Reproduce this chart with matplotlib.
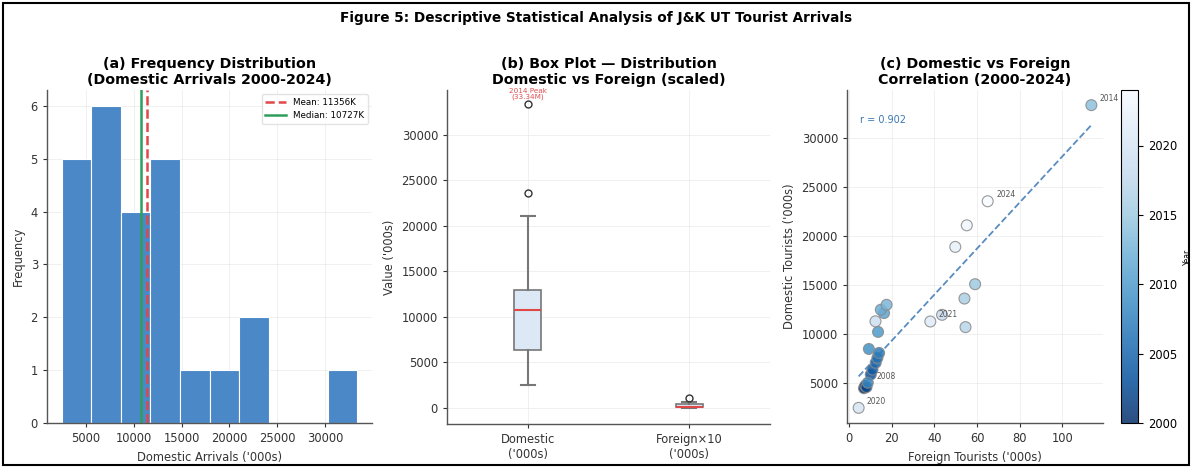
import numpy as np
import matplotlib
matplotlib.use("Agg")
import matplotlib.pyplot as plt
from matplotlib.patches import Rectangle

# J&K UT tourist arrivals, thousands
years = list(range(2000, 2025))
domestic = [4500, 4760, 4620, 5900, 6400, 7100, 7600, 8100, 5060, 8500,
            10240, 12160, 12500, 13000, 33345, 15100, 13638, 10727, 11980, 11320,
            2500, 11300, 18900, 21100, 23550]
foreign = [7.0, 7.6, 8.2, 10.2, 11.0, 12.5, 13.3, 14.1, 8.8, 9.3,
           13.6, 16.4, 14.9, 17.6, 113.6, 59.1, 54.1, 54.6, 43.6, 12.4,
           4.5, 38.1, 49.8, 55.2, 65.0]
labelled_years = [2008, 2014, 2020, 2021, 2024]
box_labels = ["Domestic\n('000s)", "Foreign×10\n('000s)"]
foreign_scale = 10

dom = np.array(domestic, dtype=float)
forg = np.array(foreign, dtype=float)
yrs = np.array(years)

plt.rcParams["font.family"] = ["DejaVu Sans"]

fig = plt.figure(figsize=(11.92, 4.68), dpi=100)
W, H = 1192, 468


def px_axes(l, t, r, b):
    return fig.add_axes([l / W, 1 - b / H, (r - l) / W, (b - t) / H])


ax1 = px_axes(47, 90, 372, 423)
ax2 = px_axes(447, 90, 770, 424)
ax3 = px_axes(847, 90, 1103, 423)
cax = px_axes(1121, 90, 1138, 423)

spine_col = "#555555"
for ax in (ax1, ax2, ax3):
    ax.set_facecolor("white")
    for s in ("top", "right"):
        ax.spines[s].set_visible(False)
    for s in ("left", "bottom"):
        ax.spines[s].set_color(spine_col)
        ax.spines[s].set_linewidth(1.0)
    ax.tick_params(labelsize=8.3, colors="#333333", length=3, width=0.8)
    ax.grid(True, color="#e6e6e6", linewidth=0.6, alpha=0.7)
    ax.set_axisbelow(True)

# (a) histogram
ax1.hist(dom, bins=10, color="#4a88c7", edgecolor="white", linewidth=0.8)
mean_v = dom.mean()
med_v = np.median(dom)
ax1.axvline(mean_v, color="#e04848", linestyle="--", linewidth=1.8,
            label=f"Mean: {mean_v:.0f}K")
ax1.axvline(med_v, color="#2e9e5b", linestyle="-", linewidth=1.8,
            label=f"Median: {med_v:.0f}K")
ax1.legend(loc="upper right", fontsize=6.3, frameon=True, framealpha=0.8,
           edgecolor="#dddddd", handlelength=2.4)
ax1.set_title("(a) Frequency Distribution\n(Domestic Arrivals 2000-2024)",
              fontsize=10.3, fontweight="bold", pad=4)
ax1.set_xlabel("Domestic Arrivals ('000s)", fontsize=8.3, color="#333333")
ax1.set_ylabel("Frequency", fontsize=8.3, color="#333333")

# (b) box plot
bp = ax2.boxplot([dom, forg * foreign_scale], patch_artist=True, widths=0.17,
                 medianprops=dict(color="#e04848", linewidth=1.5),
                 boxprops=dict(facecolor="#dce8f6", edgecolor="#777777", linewidth=1.2),
                 whiskerprops=dict(color="#777777", linewidth=1.5),
                 capprops=dict(color="#777777", linewidth=1.5),
                 flierprops=dict(marker="o", markerfacecolor="none",
                                 markeredgecolor="#333333", markersize=5))
ax2.set_xticks([1, 2])
ax2.set_xticklabels(box_labels, fontsize=8.3)
ax2.set_ylim(-1750, 34900)
peak_i = int(np.argmax(dom))
ax2.annotate(f"{years[peak_i]} Peak\n({dom[peak_i] / 1000:.2f}M)",
             xy=(1, dom[peak_i]), xytext=(0, 3), textcoords="offset points",
             ha="center", va="bottom", fontsize=5.2, color="#e05050",
             linespacing=1.0)
ax2.set_title("(b) Box Plot — Distribution\nDomestic vs Foreign (scaled)",
              fontsize=10.3, fontweight="bold", pad=4)
ax2.set_ylabel("Value ('000s)", fontsize=8.3, color="#333333")

# (c) scatter with regression line
sc = ax3.scatter(forg, dom, c=yrs, cmap="Blues_r", s=62, alpha=0.85,
                 edgecolors="#888888", linewidths=0.8, vmin=2000, vmax=2024, zorder=3)
slope, intercept = np.polyfit(forg, dom, 1)
xs = np.linspace(forg.min(), forg.max(), 50)
ax3.plot(xs, slope * xs + intercept, linestyle="--", color="#3c78b4",
         linewidth=1.3, alpha=0.85, zorder=2)
r = np.corrcoef(forg, dom)[0, 1]
ax3.text(0.05, 0.9, f"r = {r:.3f}", transform=ax3.transAxes, fontsize=7,
         color="#3c78b4")
for y in labelled_years:
    i = years.index(y)
    ax3.annotate(str(y), xy=(forg[i], dom[i]), xytext=(6, 3),
                 textcoords="offset points", fontsize=5.5, color="#555555")
ax3.set_title("(c) Domestic vs Foreign\nCorrelation (2000-2024)",
              fontsize=10.3, fontweight="bold", pad=4)
ax3.set_xlabel("Foreign Tourists ('000s)", fontsize=8.3, color="#333333")
ax3.set_ylabel("Domestic Tourists ('000s)", fontsize=8.3, color="#333333")

cb = fig.colorbar(sc, cax=cax)
cb.set_label("Year", fontsize=5.5)
cb.ax.tick_params(labelsize=8.3)
cb.set_ticks([2000, 2005, 2010, 2015, 2020])

fig.suptitle("Figure 5: Descriptive Statistical Analysis of J&K UT Tourist Arrivals",
             fontsize=9.8, fontweight="bold", y=1 - 18 / H, va="center")

fig.patches.append(Rectangle((3 / W, 3 / H), 1 - 6 / W, 1 - 6 / H,
                             transform=fig.transFigure, fill=False,
                             edgecolor="black", linewidth=1.5))

fig.savefig("out.png", dpi=100)
